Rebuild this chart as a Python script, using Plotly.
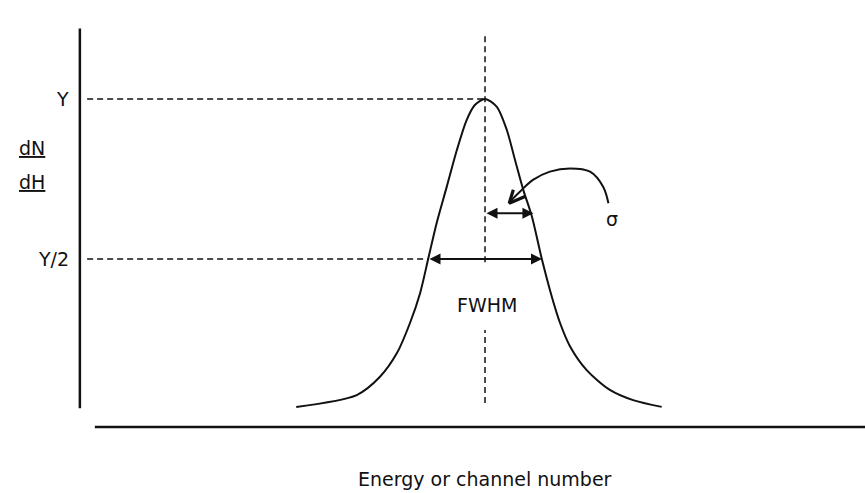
import plotly.graph_objects as go

# Peak profile: x in units of sigma from the centroid, y in units of the peak height Y
left_x = [-3.90, -2.65, -2.17, -1.82, -1.55, -1.34, -1.17, -1.00, -0.79, -0.58, -0.38, -0.21, 0.00]
left_y = [0.038, 0.075, 0.132, 0.206, 0.300, 0.394, 0.503, 0.612, 0.726, 0.841, 0.934, 0.981, 1.000]
right_x = [0.24, 0.45, 0.62, 0.79, 0.97, 1.17, 1.38, 1.55, 1.76, 2.10, 2.58, 3.06, 3.65]
right_y = [0.976, 0.903, 0.809, 0.716, 0.632, 0.502, 0.382, 0.300, 0.226, 0.153, 0.091, 0.059, 0.038]
peak_x = left_x + right_x
peak_y = left_y + right_y

# Reference quantities
Y_LEVEL = 1.0
HALF_LEVEL = 0.5
SIGMA = 1.0
HALF_WIDTH = 1.1775          # FWHM / 2 = 2.355 sigma / 2
SIGMA_ARROW_LEVEL = 0.643

# Pointer from the sigma label to the sigma arrow
pointer_x = [2.55, 2.44, 2.17, 1.76, 1.34, 0.99, 0.72, 0.55, 0.50]
pointer_y = [0.674, 0.726, 0.773, 0.783, 0.773, 0.747, 0.710, 0.684, 0.674]
pointer_head_x = [0.585, 0.50, 0.826]
pointer_head_y = [0.716, 0.674, 0.695]

# Axis frame extents
axis_x = -8.37
axis_top, axis_bottom = 1.22, 0.034
base_y = -0.025
base_left, base_right = -8.06, 7.9
guide_left = -8.22

labels_font = dict(family="DejaVu Sans", size=19, color="#111111")
ink = "#111111"

fig = go.Figure()

# Peak curve
fig.add_trace(go.Scatter(x=peak_x, y=peak_y, mode="lines",
                         line=dict(color=ink, width=2, shape="spline", smoothing=0.8),
                         hoverinfo="skip"))

# Sigma pointer
fig.add_trace(go.Scatter(x=pointer_x, y=pointer_y, mode="lines",
                         line=dict(color=ink, width=2, shape="spline", smoothing=1.0),
                         hoverinfo="skip"))
fig.add_trace(go.Scatter(x=pointer_head_x, y=pointer_head_y, mode="lines",
                         line=dict(color=ink, width=3.2),
                         hoverinfo="skip"))

dash = "6px,4px"

# Axes drawn as lines
fig.add_shape(type="line", x0=axis_x, x1=axis_x, y0=axis_bottom, y1=axis_top,
              line=dict(color=ink, width=2.5))
fig.add_shape(type="line", x0=base_left, x1=base_right, y0=base_y, y1=base_y,
              line=dict(color=ink, width=2.5))

# Guide lines
fig.add_shape(type="line", x0=guide_left, x1=0, y0=Y_LEVEL, y1=Y_LEVEL,
              line=dict(color=ink, width=1.5, dash=dash))
fig.add_shape(type="line", x0=guide_left, x1=-HALF_WIDTH, y0=HALF_LEVEL, y1=HALF_LEVEL,
              line=dict(color=ink, width=1.5, dash=dash))
fig.add_shape(type="line", x0=0, x1=0, y0=0.49, y1=1.2,
              line=dict(color=ink, width=1.5, dash=dash))
fig.add_shape(type="line", x0=0, x1=0, y0=0.05, y1=0.278,
              line=dict(color=ink, width=1.5, dash=dash))

# Double-headed width arrows
for x0, x1, yy in [(-HALF_WIDTH, HALF_WIDTH, HALF_LEVEL), (0, SIGMA, SIGMA_ARROW_LEVEL)]:
    fig.add_annotation(x=x1, y=yy, ax=x0, ay=yy, xref="x", yref="y", axref="x", ayref="y",
                       text="", showarrow=True, arrowhead=2, startarrowhead=2,
                       arrowside="end+start", arrowsize=1.1, arrowwidth=2,
                       arrowcolor=ink, standoff=0, startstandoff=0)

# Labels
fig.add_annotation(x=-8.55, y=Y_LEVEL, text="Y", showarrow=False, xanchor="right",
                   font=labels_font)
fig.add_annotation(x=-8.55, y=HALF_LEVEL, text="Y/2", showarrow=False, xanchor="right",
                   font=labels_font)
fig.add_annotation(x=-9.35, y=0.847, text='<span style="text-decoration:underline">dN</span>',
                   showarrow=False, font=labels_font)
fig.add_annotation(x=-9.35, y=0.741, text='<span style="text-decoration:underline">dH</span>',
                   showarrow=False, font=labels_font)
fig.add_annotation(x=2.62, y=0.625, text="σ", showarrow=False, font=labels_font)
fig.add_annotation(x=0.04, y=0.356, text="FWHM", showarrow=False, font=labels_font)
fig.add_annotation(x=0.0, y=-0.1875, text="Energy or channel number", showarrow=False,
                   font=labels_font)

fig.update_layout(
    width=865, height=493,
    margin=dict(l=0, r=0, t=0, b=0),
    paper_bgcolor="white", plot_bgcolor="white",
    showlegend=False,
    xaxis=dict(range=[-10.02, 7.85], visible=False, fixedrange=True),
    yaxis=dict(range=[-0.231, 1.309], visible=False, fixedrange=True),
)

fig.write_html("out.html")
